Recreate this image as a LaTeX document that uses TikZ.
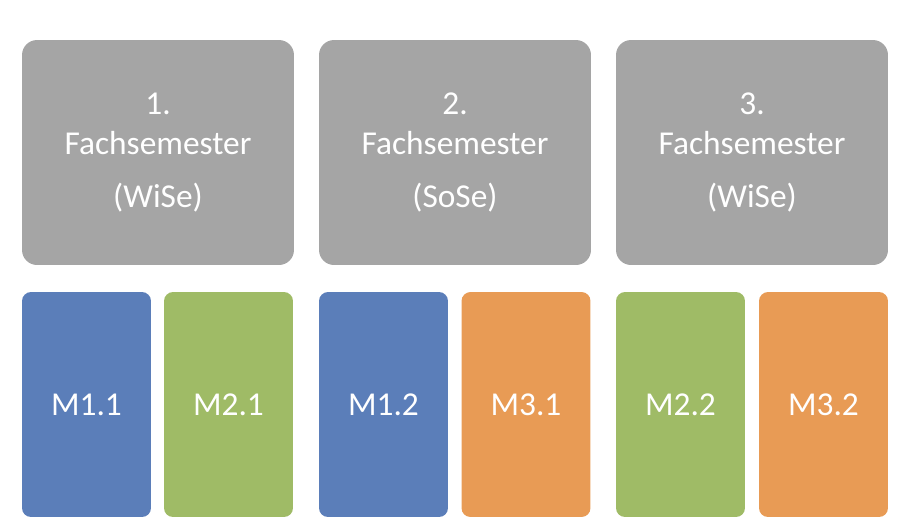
\documentclass[tikz,border=0pt]{standalone}
\usepackage{fontspec}
\setmainfont{Carlito}
\definecolor{semgray}{HTML}{A5A5A5}
\definecolor{modblue}{HTML}{5B7EB9}
\definecolor{modgreen}{HTML}{9FBB66}
\definecolor{modorange}{HTML}{E89B55}
\tikzset{
  sem/.style={rectangle,rounded corners=0.3cm,fill=semgray,text=white,align=center,
    minimum width=5.44cm,minimum height=4.5cm,inner sep=0pt,font=\fontsize{19}{23}\selectfont},
  mod/.style={rectangle,rounded corners=0.18cm,text=white,
    minimum width=2.58cm,minimum height=4.5cm,inner sep=0pt,font=\fontsize{19}{23}\selectfont}
}
\begin{document}
\begin{tikzpicture}[x=0.02cm,y=-0.02cm]
	\useasboundingbox (0,0) rectangle (906,529);
	\node[sem](s1) at (158,152.5){1.\\Fachsemester\\[7pt](WiSe)};
	\node[sem](s2) at (455,152.5){2.\\Fachsemester\\[7pt](SoSe)};
	\node[sem](s3) at (752,152.5){3.\\Fachsemester\\[7pt](WiSe)};
	\node[mod,fill=modblue](m11) at (86.5,404.5){M1.1};
	\node[mod,fill=modgreen](m21) at (228.5,404.5){M2.1};
	\node[mod,fill=modblue](m12) at (383.5,404.5){M1.2};
	\node[mod,fill=modorange](m31) at (526,404.5){M3.1};
	\node[mod,fill=modgreen](m22) at (680.5,404.5){M2.2};
	\node[mod,fill=modorange](m32) at (823.5,404.5){M3.2};
\end{tikzpicture}
\end{document}
